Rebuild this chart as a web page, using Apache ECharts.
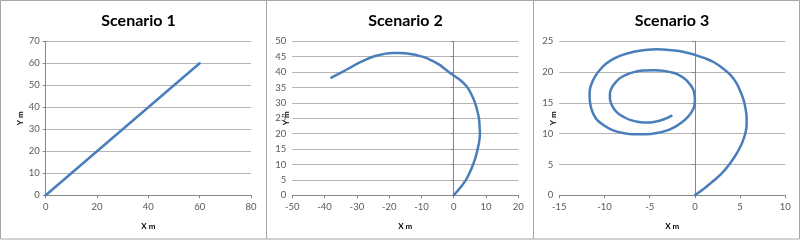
<!DOCTYPE html>
<html>
<head>
<meta charset="utf-8">
<script src="https://cdn.jsdelivr.net/npm/echarts@6/dist/echarts.min.js"></script>
<style>html,body{margin:0;padding:0;background:#fff}#c{width:800px;height:241px}</style>
</head>
<body>
<div id="c"></div>
<script>
// Data
const titles = ['Scenario 1', 'Scenario 2', 'Scenario 3'];
const scenario1 = [[0, 0], [60, 60]];
const scenario2 = [[0,0],[1.8,2.2],[3.8,5],[5,7.5],[6,10],[6.8,12.5],[7.4,15],[7.9,17.5],[8.1,20],[8.0,22.5],[7.8,25],[7.3,27.5],[6.6,30],[5.6,32.5],[4.4,34.8],[2.9,36.6],[1.0,38.2],[-1,39.6],[-2.8,41.1],[-4.6,42.5],[-6.7,43.7],[-8.8,44.7],[-10.8,45.3],[-12.9,45.8],[-15,46.1],[-17,46.2],[-19,46.2],[-21.1,46],[-23.2,45.5],[-25.3,44.9],[-27.4,44.0],[-29.4,43],[-31.5,41.8],[-33.5,40.6],[-35.7,39.4],[-37.9,38.2]];
const scenario3 = [[0,0],[1.1,1.2],[2.1,2.4],[3.0,3.6],[3.8,5],[4.5,6.5],[5.0,7.8],[5.35,9.0],[5.6,10.2],[5.72,11.4],[5.72,12.7],[5.6,14.06],[5.4,15.4],[5.05,16.8],[4.6,18.2],[3.95,19.5],[3.1,20.6],[2.1,21.6],[1.0,22.3],[0,22.8],[-1.58,23.4],[-2.9,23.6],[-4.16,23.7],[-5.5,23.6],[-6.75,23.3],[-8.0,22.8],[-8.96,22.2],[-9.8,21.4],[-10.4,20.55],[-10.95,19.5],[-11.35,18.4],[-11.6,17.3],[-11.65,16.2],[-11.6,15.1],[-11.46,14.06],[-11.2,13.1],[-10.8,12.2],[-10.1,11.4],[-9.3,10.7],[-8.4,10.25],[-7.5,10.0],[-6.5,9.9],[-5.45,9.9],[-4.2,10.1],[-3.05,10.55],[-2.1,11.2],[-1.4,11.9],[-0.8,12.7],[-0.37,13.5],[-0.08,14.4],[0,15.4],[-0.05,16.4],[-0.22,17.3],[-0.6,18.1],[-1.03,18.8],[-1.6,19.4],[-2.3,19.85],[-3.4,20.2],[-4.5,20.3],[-5.7,20.25],[-6.75,20.0],[-7.7,19.5],[-8.4,18.9],[-8.9,18.1],[-9.25,17.3],[-9.4,16.5],[-9.4,15.7],[-9.25,14.85],[-8.96,14.06],[-8.5,13.3],[-7.85,12.7],[-7.1,12.2],[-6.2,11.9],[-5.3,11.8],[-4.4,11.95],[-3.43,12.35],[-2.6,12.9]];
const xRanges = [[0, 80, 20], [-50, 20, 10], [-15, 10, 5]];
const yRanges = [[0, 70, 10], [0, 50, 5], [0, 25, 5]];
const xName = 'X m';
const yName = 'Y m';

const FONT = 'Lato, "Liberation Sans", sans-serif';
const LINE = '#4a7ebb';
const GRID = '#b4b4b4';
const AXIS = '#868686';
const LABEL = '#595959';

const grids = [
  {left: 45.7, right: 549, top: 41.3, bottom: 45.7},
  {left: 292.3, right: 281.7, top: 41.3, bottom: 45.7},
  {left: 559.3, right: 14.7, top: 41.3, bottom: 45.7}
];
const panelCenters = [133.5, 400.5, 667];
const yNameX = [20, 286, 553];
const panels = [[0.5, 266.5], [266.5, 533.5], [533.5, 799.5]];

const series = [scenario1, scenario2, scenario3].map((d, i) => ({
  type: 'line', xAxisIndex: i, yAxisIndex: i, data: d,
  showSymbol: false, symbol: 'none', smooth: i > 0 ? 0.4 : false,
  lineStyle: {color: LINE, width: 2.5, join: 'round', cap: 'round'}, animation: false
}));

const option = {
  animation: false,
  title: titles.map((t, i) => ({
    text: t, left: panelCenters[i], top: 8, textAlign: 'center',
    textStyle: {fontFamily: FONT, fontWeight: 'bold', fontSize: 16, color: '#000'}
  })),
  grid: grids,
  xAxis: xRanges.map((r, i) => ({
    type: 'value', gridIndex: i, min: r[0], max: r[1], interval: r[2],
    name: xName, nameLocation: 'middle', nameGap: 27,
    nameTextStyle: {fontFamily: FONT, fontWeight: 'bold', fontSize: 8, color: '#000'},
    axisLine: {show: true, onZero: false, lineStyle: {color: AXIS, width: 1}},
    axisTick: {show: true, length: 3, lineStyle: {color: AXIS}},
    axisLabel: {fontFamily: FONT, fontSize: 9.5, color: LABEL, margin: 7},
    splitLine: {show: false}
  })),
  yAxis: yRanges.map((r, i) => ({
    type: 'value', gridIndex: i, min: r[0], max: r[1], interval: r[2],
    axisLine: {show: true, onZero: i > 0, lineStyle: {color: AXIS, width: 1}},
    axisTick: {show: true, length: 3, lineStyle: {color: AXIS}},
    axisLabel: {fontFamily: FONT, fontSize: 9.5, color: LABEL, margin: 6},
    splitLine: {show: true, lineStyle: {color: GRID, width: 1}}
  })),
  graphic: [
    ...panels.map(p => ({
      type: 'rect', shape: {x: p[0], y: 0.5, width: p[1] - p[0], height: 238.5},
      style: {fill: 'none', stroke: '#a6a6a6', lineWidth: 1}, silent: true, z: -1
    })),
    ...yNameX.map(x => ({
      type: 'text', x: x, y: 118.3, rotation: Math.PI / 2,
      style: {text: yName, fontFamily: FONT, fontWeight: 'bold', fontSize: 8, fill: '#000',
              align: 'center', verticalAlign: 'middle'}
    }))
  ],
  series: series
};
const chart = echarts.init(document.getElementById('c'), null, {renderer: 'canvas'});
chart.setOption(option);
</script>
</body>
</html>
